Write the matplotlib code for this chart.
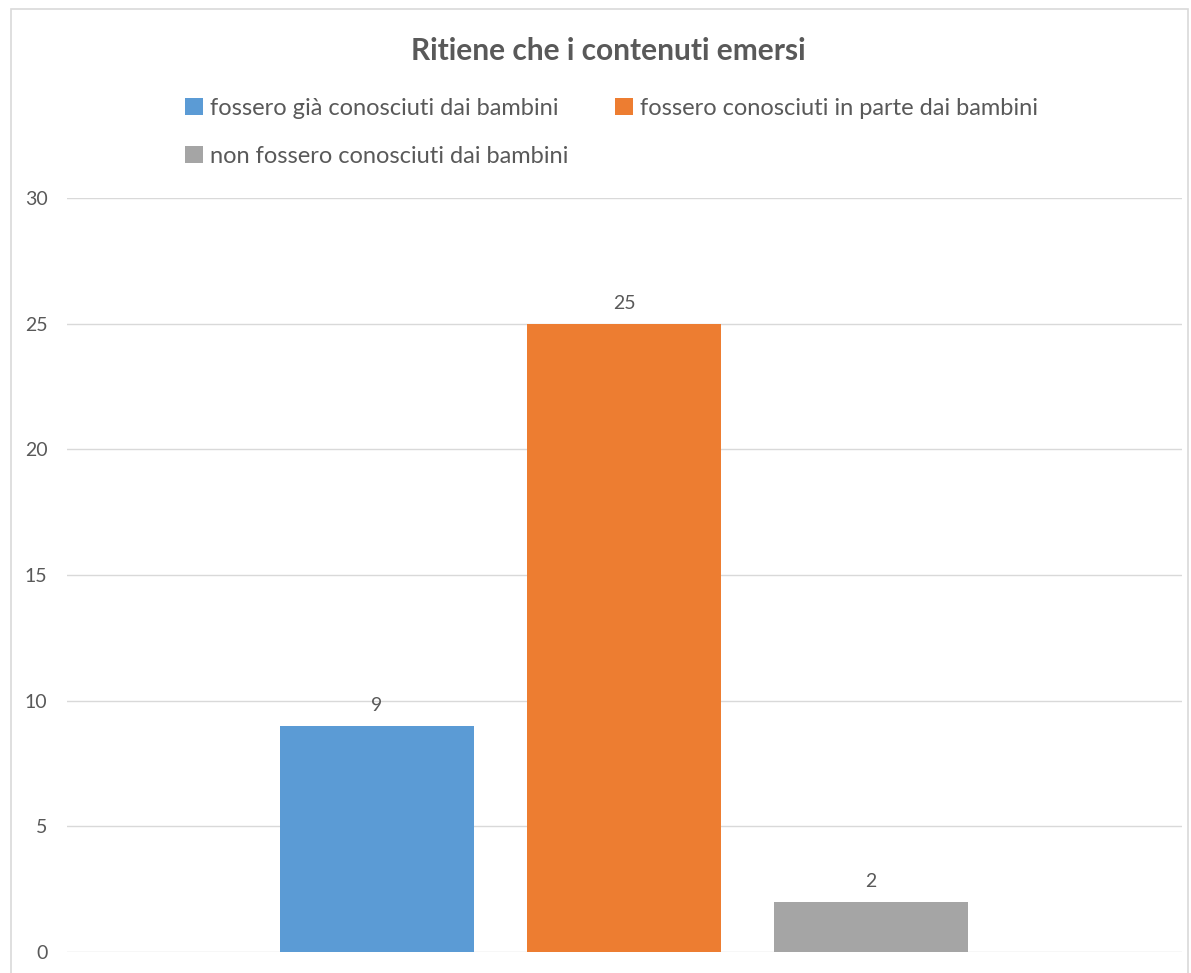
import matplotlib.pyplot as plt
from matplotlib.patches import Rectangle

# Dati del grafico
serie = ['fossero già conosciuti dai bambini',
         'fossero conosciuti in parte dai bambini',
         'non fossero conosciuti dai bambini']
valori = [9, 25, 2]
colori = ['#5B9BD5', '#ED7D31', '#A5A5A5']
tick_y = [0, 5, 10, 15, 20, 25, 30]

plt.rcParams['font.family'] = ['Lato', 'DejaVu Sans']
grigio = '#595959'

fig = plt.figure(figsize=(11.91, 9.73), dpi=100)
ax = fig.add_axes([67 / 1191, 21 / 973, (1182 - 67) / 1191, (952 - 198) / 973])

# bordo esterno del grafico
fig.patches.append(Rectangle((11 / 1191, -0.01), (1188 - 11) / 1191, (973 - 9) / 973 + 0.01,
                             transform=fig.transFigure, fill=False,
                             edgecolor='#d9d9d9', linewidth=1.2))

x = list(range(len(valori)))
barre = ax.bar(x, valori, width=0.785, color=colori, zorder=3, label=serie)

for b, v in zip(barre, valori):
    ax.text(b.get_x() + b.get_width() / 2, v + 0.45, str(v),
            ha='center', va='bottom', fontsize=14, color=grigio)

ax.set_xlim(-1.255, 3.259)
ax.set_ylim(0, 30)
ax.set_yticks(tick_y)
ax.set_xticks([])
ax.tick_params(axis='y', length=0, labelsize=14, labelcolor=grigio, pad=14)
ax.grid(axis='y', color='#d9d9d9', linewidth=1, zorder=0)
for s in ax.spines.values():
    s.set_visible(False)

fig.text(608 / 1191, 1 - 51 / 973, 'Ritiene che i contenuti emersi',
         ha='center', va='center', fontsize=21.5, fontweight='bold', color=grigio)

# legenda: ordine per colonne
h = [barre[0], barre[2], barre[1]]
l = [serie[0], serie[2], serie[1]]
leg = fig.legend(h, l, loc='upper left', bbox_to_anchor=(173 / 1191, 1 - 86 / 973),
                 ncol=2, frameon=False, fontsize=17, handlelength=0.75, handleheight=0.75,
                 handletextpad=0.3, columnspacing=2.0, labelspacing=1.15, borderpad=0)
for t in leg.get_texts():
    t.set_color(grigio)

fig.savefig('out.png', dpi=100, facecolor='white')
